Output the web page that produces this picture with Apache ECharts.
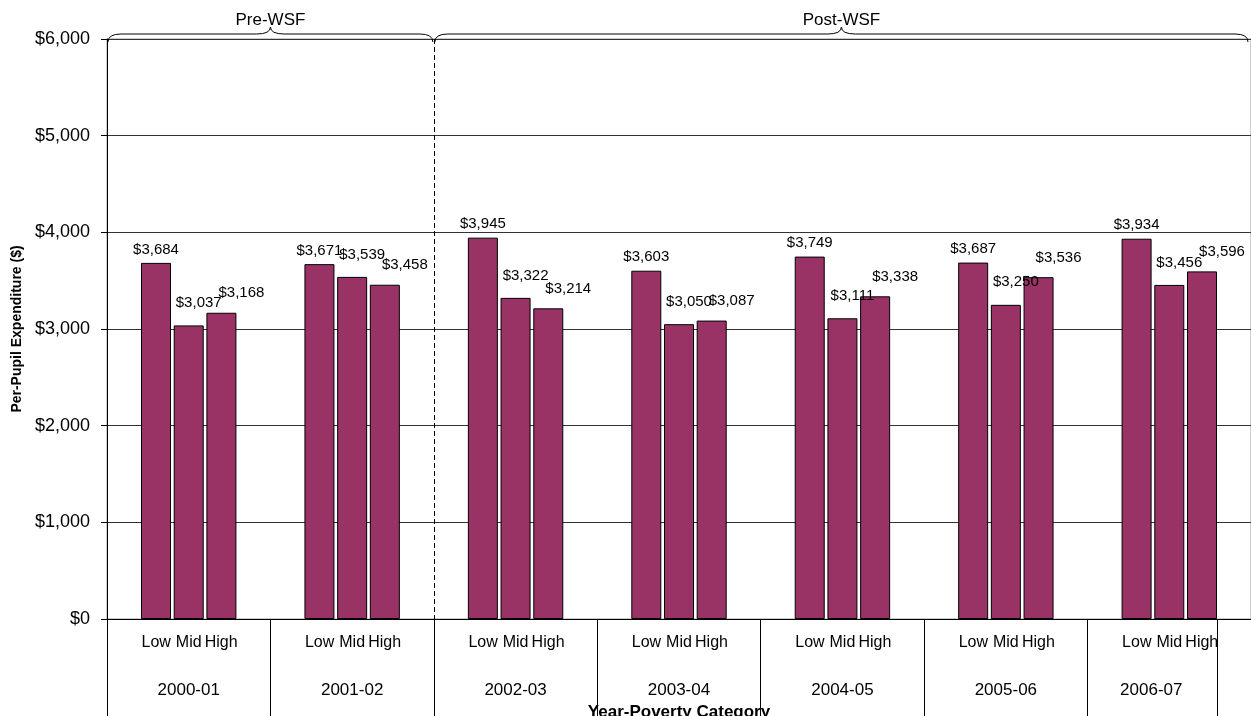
<!DOCTYPE html>
<html>
<head>
<meta charset="utf-8">
<script src="https://cdn.jsdelivr.net/npm/echarts@6/dist/echarts.min.js"></script>
<style>
  html, body { margin: 0; padding: 0; background: #fff; }
  #chart { width: 1251px; height: 716px; }
</style>
</head>
<body>
<div id="chart"></div>
<script>
// data
const years = ['2000-01', '2001-02', '2002-03', '2003-04', '2004-05', '2005-06', '2006-07'];
const povertyLevels = ['Low', 'Mid', 'High'];
const lowValues  = [3684, 3671, 3945, 3603, 3749, 3687, 3934];
const midValues  = [3037, 3539, 3322, 3050, 3111, 3250, 3456];
const highValues = [3168, 3458, 3214, 3087, 3338, 3536, 3596];
const yMin = 0, yMax = 6000, yStep = 1000;
const periods = [
  { name: 'Pre-WSF', from: 0, to: 1 },
  { name: 'Post-WSF', from: 2, to: 6 }
];

const font = '"Liberation Sans", Arial, sans-serif';
const money = v => '$' + Number(v).toLocaleString('en-US');

const chart = echarts.init(document.getElementById('chart'), null, { renderer: 'canvas' });

// labels of mid / high bars sit a bit up and to the right, as in the original
const barSeries = (name, data, dx, dist) => ({
  name: name,
  type: 'bar',
  data: data,
  barWidth: 30,
  barGap: '9%',
  xAxisIndex: 0,
  itemStyle: { color: '#993366', borderColor: '#000', borderWidth: 1 },
  label: {
    show: true,
    position: 'top',
    distance: dist,
    offset: [dx, 0],
    formatter: p => money(p.value),
    color: '#000',
    fontSize: 15,
    fontFamily: font
  }
});

const levelStyle = { width: 32.5, align: 'center', fontSize: 16, color: '#000', fontFamily: font };

const option = {
  animation: false,
  backgroundColor: '#fff',
  textStyle: { fontFamily: font },
  grid: {
    left: 107, right: 0, top: 39, bottom: 97,
    outerBoundsMode: 'none',
    containLabel: false,
    show: true, borderColor: '#999', borderWidth: 1, backgroundColor: 'transparent'
  },
  xAxis: [{
    type: 'category',
    data: years,
    position: 'bottom',
    axisLine: { show: true, lineStyle: { color: '#000', width: 1 } },
    axisTick: { show: true, length: 97, interval: 0, lineStyle: { color: '#000' } },
    axisLabel: {
      interval: 0,
      margin: 16,
      formatter: () => povertyLevels.map((l, i) => '{p' + i + '|' + l + '}').join(''),
      rich: { p0: levelStyle, p1: levelStyle, p2: levelStyle }
    }
  }, {
    type: 'category',
    data: years,
    position: 'bottom',
    axisLine: { show: false },
    axisTick: { show: false },
    axisLabel: {
      interval: 0,
      margin: 63,
      formatter: (v, i) => i === years.length - 1 ? '{s|' + v + '}' : v,
      color: '#000',
      fontSize: 17,
      fontFamily: font,
      rich: { s: { padding: [0, 36, 0, 0], fontSize: 17, color: '#000', fontFamily: font } }
    },
    name: 'Year-Poverty Category',
    nameLocation: 'middle',
    nameGap: 85,
    nameTextStyle: { fontWeight: 'bold', fontSize: 17, color: '#000', fontFamily: font }
  }],
  yAxis: {
    type: 'value',
    min: yMin, max: yMax, interval: yStep,
    axisLine: { show: true, lineStyle: { color: '#000' } },
    axisTick: { show: true, length: 6, lineStyle: { color: '#000' } },
    axisLabel: { formatter: money, margin: 17, fontSize: 18, color: '#000', fontFamily: font },
    splitLine: { show: true, lineStyle: { color: '#333', width: 1 } },
    name: 'Per-Pupil Expenditure ($)',
    nameLocation: 'middle',
    nameGap: 83,
    nameTextStyle: { fontWeight: 'bold', fontSize: 14, color: '#000', fontFamily: font }
  },
  series: [
    barSeries(povertyLevels[0], lowValues, 0, 6),
    barSeries(povertyLevels[1], midValues, 10, 15),
    barSeries(povertyLevels[2], highValues, 20, 12)
  ]
};
chart.setOption(option);

// braces, period divider and extra tick, placed from the axes
const cx = i => chart.convertToPixel({ xAxisIndex: 0 }, i);
const step = cx(1) - cx(0);
const edge = i => cx(i) - step / 2;
const plotTop = chart.convertToPixel({ yAxisIndex: 0 }, yMax);
const plotBottom = chart.convertToPixel({ yAxisIndex: 0 }, yMin);
const braceStyle = { stroke: '#000', lineWidth: 1, fill: null };

const brace = (x0, x1, text) => {
  const mid = (x0 + x1) / 2;
  const yEnd = plotTop + 3, yBar = plotTop - 5, yTip = plotTop - 12;
  return [
    { type: 'bezierCurve', shape: { x1: x0 + 1, y1: yEnd, cpx1: x0 + 1, cpy1: yBar, x2: x0 + 14, y2: yBar }, style: braceStyle },
    { type: 'line', shape: { x1: x0 + 14, y1: yBar, x2: mid - 14, y2: yBar }, style: braceStyle },
    { type: 'bezierCurve', shape: { x1: mid - 14, y1: yBar, cpx1: mid, cpy1: yBar, x2: mid, y2: yTip }, style: braceStyle },
    { type: 'bezierCurve', shape: { x1: mid, y1: yTip, cpx1: mid, cpy1: yBar, x2: mid + 14, y2: yBar }, style: braceStyle },
    { type: 'line', shape: { x1: mid + 14, y1: yBar, x2: x1 - 14, y2: yBar }, style: braceStyle },
    { type: 'bezierCurve', shape: { x1: x1 - 14, y1: yBar, cpx1: x1 - 1, cpy1: yBar, x2: x1 - 1, y2: yEnd }, style: braceStyle },
    { type: 'text', x: mid, y: plotTop - 19,
      style: { text: text, fill: '#000', fontSize: 17, fontFamily: font, align: 'center', verticalAlign: 'middle' } }
  ];
};

let elements = [];
periods.forEach(p => {
  const right = Math.min(edge(p.to + 1), 1249);
  elements = elements.concat(brace(edge(p.from), right, p.name));
});
const divider = Math.round(edge(periods[1].from)) + 0.5;
elements.push({ type: 'line', z: 10,
  shape: { x1: divider, y1: plotTop, x2: divider, y2: plotBottom },
  style: { stroke: '#000', lineWidth: 1, lineDash: [5, 3] } });
const extra = Math.round(edge(years.length) - 34) + 0.5;
elements.push({ type: 'line',
  shape: { x1: extra, y1: plotBottom, x2: extra, y2: plotBottom + 97 },
  style: { stroke: '#000', lineWidth: 1 } });

chart.setOption({ graphic: { elements: elements } });
</script>
</body>
</html>
